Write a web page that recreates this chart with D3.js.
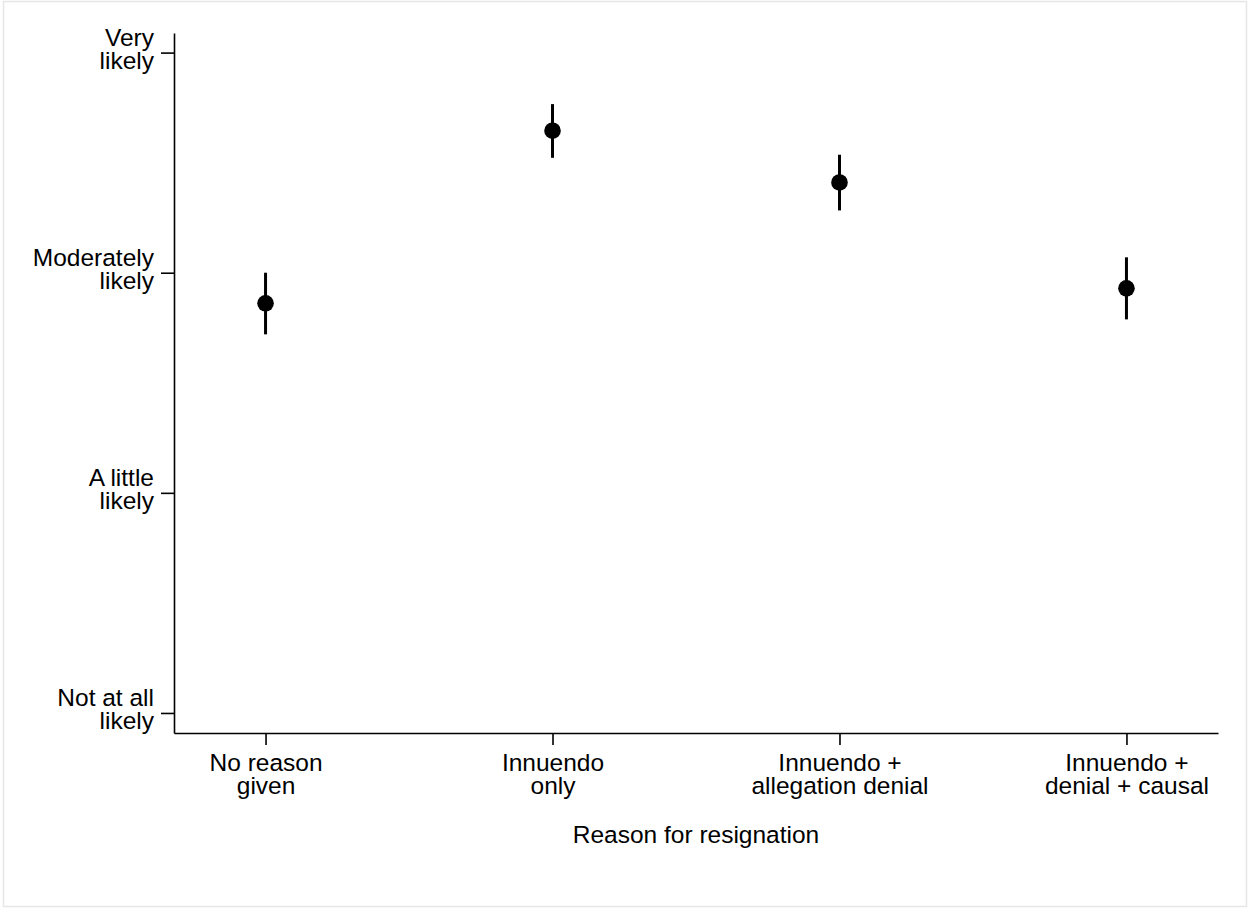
<html>
<head>
<script src="https://d3js.org/d3.v7.min.js"></script>
<style>
  body { margin: 0; background: #fff; }
  svg { display: block; }
  text { font-family: "Liberation Sans", Arial, Helvetica, sans-serif; font-size: 24.5px; fill: #000; }
  .axis path, .axis line { stroke: #000; stroke-width: 1.6; }
</style>
</head>
<body>
<svg width="1248" height="909"></svg>
<script>
// categories (two-line labels)
const reasons = [
  ['No reason', 'given'],
  ['Innuendo', 'only'],
  ['Innuendo +', 'allegation denial'],
  ['Innuendo +', 'denial + causal']
];
// estimated means and 95% CI bounds
const means = [2.861, 3.645, 3.410, 2.929];
const lower = [2.720, 3.522, 3.283, 2.788];
const upper = [3.000, 3.766, 3.536, 3.070];
// y tick values and labels
const yTicks = [1, 2, 3, 4];
const yLabels = [['Not at all', 'likely'], ['A little', 'likely'], ['Moderately', 'likely'], ['Very', 'likely']];

const svg = d3.select('svg');

// light frame around the figure
svg.append('rect')
  .attr('x', 3.5).attr('y', 1.5)
  .attr('width', 1243).attr('height', 905)
  .attr('fill', 'none')
  .attr('stroke', '#e6e6e6')
  .attr('stroke-width', 1.5);

const plotLeft = 174, plotRight = 1218, plotTop = 33, plotBottom = 733;

const x = d3.scalePoint()
  .domain(reasons.map((d, i) => i))
  .range([plotLeft, plotRight])
  .padding(0.319);

const y = d3.scaleLinear()
  .domain([0.909, 4.089])
  .range([plotBottom, plotTop]);

// y axis
const yAxis = svg.append('g')
  .attr('class', 'axis')
  .attr('transform', `translate(${plotLeft},0)`)
  .call(d3.axisLeft(y).tickValues(yTicks).tickSize(13).tickSizeOuter(0).tickFormat(''));

yAxis.selectAll('.tick').each(function (d) {
  const t = d3.select(this).append('text')
    .attr('text-anchor', 'end');
  const lab = yLabels[yTicks.indexOf(d)];
  t.append('tspan').attr('x', -20).attr('y', -7.5).text(lab[0]);
  t.append('tspan').attr('x', -20).attr('y', 16).text(lab[1]);
});

// x axis
const xAxis = svg.append('g')
  .attr('class', 'axis')
  .attr('transform', `translate(0,${plotBottom})`)
  .call(d3.axisBottom(x).tickSize(12).tickSizeOuter(0).tickFormat(''));

xAxis.selectAll('.tick').each(function (d) {
  const t = d3.select(this).append('text')
    .attr('text-anchor', 'middle');
  t.append('tspan').attr('x', 0).attr('y', 38).text(reasons[d][0]);
  t.append('tspan').attr('x', 0).attr('y', 61).text(reasons[d][1]);
});

// axis title
svg.append('text')
  .attr('x', (plotLeft + plotRight) / 2)
  .attr('y', 843)
  .attr('text-anchor', 'middle')
  .text('Reason for resignation');

// confidence intervals
svg.append('g')
  .selectAll('line')
  .data(means)
  .join('line')
  .attr('x1', (d, i) => x(i))
  .attr('x2', (d, i) => x(i))
  .attr('y1', (d, i) => y(lower[i]))
  .attr('y2', (d, i) => y(upper[i]))
  .attr('stroke', '#000')
  .attr('stroke-width', 3);

// point estimates
svg.append('g')
  .selectAll('circle')
  .data(means)
  .join('circle')
  .attr('cx', (d, i) => x(i))
  .attr('cy', d => y(d))
  .attr('r', 8.3)
  .attr('fill', '#000');
</script>
</body>
</html>
